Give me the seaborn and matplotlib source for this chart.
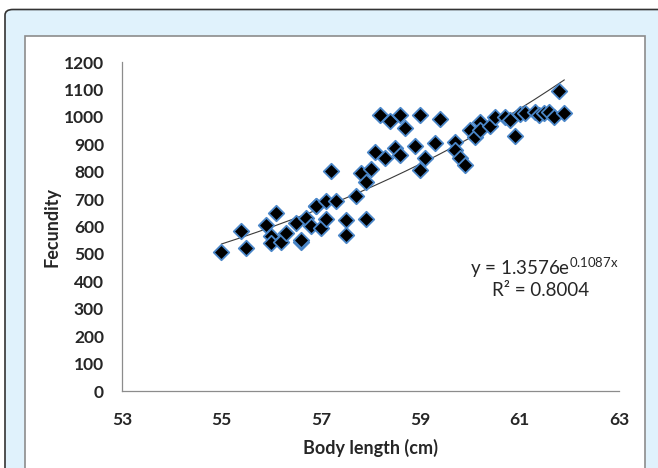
import numpy as np
import pandas as pd
import matplotlib
matplotlib.use("Agg")
import matplotlib.pyplot as plt
from matplotlib.patches import FancyBboxPatch, Rectangle
import seaborn as sns

# podatki odčitani s slike
body_length = [55.0, 55.4, 55.5, 55.9, 56.0, 56.0, 56.1, 56.2, 56.3, 56.5,
               56.6, 56.6, 56.7, 56.8, 56.9, 56.9, 57.0, 57.1, 57.1, 57.2,
               57.3, 57.5, 57.5, 57.7, 57.8, 57.9, 57.9, 58.0, 58.1, 58.2,
               58.3, 58.4, 58.5, 58.6, 58.6, 58.7, 58.9, 59.0, 59.0, 59.1,
               59.3, 59.4, 59.7, 59.7, 59.8, 59.9, 60.0, 60.1, 60.2, 60.2,
               60.4, 60.5, 60.7, 60.8, 60.9, 61.0, 61.1, 61.3, 61.4, 61.5,
               61.6, 61.7, 61.8, 61.9]
fecundity = [508, 585, 521, 606, 566, 539, 648, 545, 575, 614,
             545, 551, 630, 602, 673, 673, 594, 693, 628, 803,
             693, 624, 569, 712, 794, 762, 628, 810, 871, 1007,
             849, 983, 886, 1007, 861, 959, 892, 1007, 807, 849,
             906, 993, 910, 880, 849, 825, 953, 926, 981, 953,
             965, 999, 998, 989, 931, 1010, 1013, 1017, 1005, 1013,
             1017, 1001, 1095, 1013]

x_ticks = [53, 55, 57, 59, 61, 63]
y_ticks = list(range(0, 1201, 100))

# eksponentni trend (Excel): y = a * e^(b x)
trend_a = 1.3576
trend_b = 0.1087
r2 = 0.8004

df = pd.DataFrame({"Body length (cm)": body_length, "Fecundity": fecundity})

sns.set_style("white")
plt.rcParams['font.family'] = ['Lato', 'DejaVu Sans']
plt.rcParams['font.weight'] = 'bold'
plt.rcParams['mathtext.default'] = 'regular'

fig = plt.figure(figsize=(6.58, 4.68), dpi=100)
fig.patch.set_facecolor("white")

# okvir okoli grafa
outer = FancyBboxPatch((5 / 658, -0.05), 700 / 658, 1 - 9.5 / 468 + 0.05,
                       boxstyle="round,pad=0,rounding_size=0.012",
                       transform=fig.transFigure, facecolor="#e0f2fc",
                       edgecolor="#333333", linewidth=1.2, zorder=0)
fig.patches.append(outer)
inner = Rectangle((25 / 658, -0.01), (645 - 25) / 658, 1 - 36 / 468 + 0.01,
                  transform=fig.transFigure, facecolor="white",
                  edgecolor="#8c8c8c", linewidth=1.2, zorder=1)
fig.patches.append(inner)

ax = fig.add_axes([122 / 658, 1 - 391 / 468, (619 - 122) / 658, (391 - 62) / 468])
ax.set_zorder(5)
ax.set_facecolor("none")

sns.scatterplot(data=df, x="Body length (cm)", y="Fecundity", marker="D", s=62,
                color="black", edgecolor="#4a86c8", linewidth=1.3, ax=ax, zorder=3)

xs = np.linspace(min(body_length), max(body_length), 200)
sns.lineplot(x=xs, y=trend_a * np.exp(trend_b * xs), color="#3a3a3a",
             linewidth=0.8, ax=ax, zorder=2)

ax.set_xlim(53, 63)
ax.set_ylim(0, 1200)
ax.set_xticks(x_ticks, labels=[str(t) for t in x_ticks],
              fontsize=12.5, fontweight="bold")
ax.set_yticks(y_ticks, labels=[str(t) for t in y_ticks],
              fontsize=12.5, fontweight="bold")
for s in ["top", "right"]:
    ax.spines[s].set_visible(False)
for s in ["left", "bottom"]:
    ax.spines[s].set_color("#8c8c8c")
    ax.spines[s].set_linewidth(0.9)
ax.tick_params(axis="x", direction="out", length=6, color="#8c8c8c",
               width=0.9, pad=9)
ax.tick_params(axis="y", direction="out", length=4, color="#8c8c8c",
               width=0.9, pad=9)
ax.set_xlabel("Body length (cm)", fontsize=13, fontweight="bold", labelpad=8)
ax.set_ylabel("Fecundity", fontsize=13, fontweight="bold", labelpad=2)

ax.text(0.85, 0.375, r"y = 1.3576e$^{0.1087x}$", transform=ax.transAxes,
        fontsize=13.5, fontweight="normal", ha="center", va="center")
ax.text(0.843, 0.305, f"R² = {r2:.4f}", transform=ax.transAxes,
        fontsize=13.5, fontweight="normal", ha="center", va="center")

plt.savefig("out.png", dpi=100)
plt.close()
